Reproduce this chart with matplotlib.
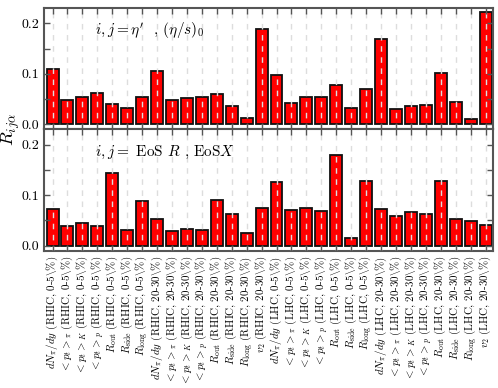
import numpy as np
import matplotlib
matplotlib.use("Agg")
import matplotlib.pyplot as plt
from matplotlib.ticker import MultipleLocator


# -----------------------------
# DATA
# -----------------------------
observables = [
    r"$dN_\pi/dy$", r"$<p_t>_\pi$", r"$<p_t>_K$", r"$<p_t>_p$",
    r"$R_{\rm out}$", r"$R_{\rm side}$", r"$R_{\rm long}$",
]
observables_v2 = observables + [r"$v_2$"]

# the backslash before % is printed literally in the original
pct = r"$\backslash$%"
bins = (
    [(o, "RHIC, 0-5" + pct) for o in observables]
    + [(o, "RHIC, 20-30" + pct) for o in observables_v2]
    + [(o, "LHC, 0-5" + pct) for o in observables]
    + [(o, "LHC, 20-30" + pct) for o in observables_v2]
)
tick_labels = [f"{o} ({c})" for o, c in bins]

# i,j = eta', (eta/s)_0
r_eta = [
    0.109, 0.048, 0.054, 0.062, 0.040, 0.033, 0.054,
    0.106, 0.048, 0.052, 0.055, 0.061, 0.036, 0.013, 0.189,
    0.097, 0.043, 0.054, 0.055, 0.078, 0.033, 0.069,
    0.168, 0.031, 0.037, 0.038, 0.101, 0.045, 0.011, 0.222,
]

# i,j = EoS R, EoS X
r_eos = [
    0.073, 0.039, 0.044, 0.039, 0.144, 0.031, 0.088,
    0.052, 0.028, 0.033, 0.030, 0.090, 0.062, 0.024, 0.074,
    0.125, 0.071, 0.075, 0.069, 0.180, 0.016, 0.128,
    0.073, 0.058, 0.066, 0.062, 0.127, 0.052, 0.049, 0.041,
]

panel_texts = [
    r"$i,j = \eta'$  , $(\eta/s)_0$",
    r"$i,j = $ EoS $R$ , EoS$X$",
]


# -----------------------------
# STYLE
# -----------------------------
plt.rcParams["font.family"] = "cmr10"
plt.rcParams["mathtext.fontset"] = "cm"
plt.rcParams["axes.formatter.use_mathtext"] = True


def style_axis(ax, x):
    ax.set_xlim(-0.55, len(x) - 0.5)
    ax.set_ylim(-0.01, 0.23)
    ax.yaxis.set_major_locator(MultipleLocator(0.1))
    ax.yaxis.set_minor_locator(MultipleLocator(0.05))
    ax.yaxis.set_major_formatter(plt.FormatStrFormatter("%.1f"))
    ax.set_xticks(x)
    ax.tick_params(axis="both", which="both", direction="in",
                   top=True, right=True, length=4, width=1,
                   color="#555555", labelsize=10)
    for s in ax.spines.values():
        s.set_color("#555555")
        s.set_linewidth(1.5)
    ax.xaxis.grid(True, color="#dddddd", linestyle=(0, (4, 4)), linewidth=1)
    ax.set_axisbelow(False)


def main():
    fig = plt.figure(figsize=(4.98, 3.88), dpi=100)
    gs = fig.add_gridspec(2, 1, left=0.089, right=0.99, top=0.979,
                          bottom=0.354, hspace=0)
    x = np.arange(len(tick_labels))

    for k, (vals, txt) in enumerate(zip([r_eta, r_eos], panel_texts)):
        ax = fig.add_subplot(gs[k])
        ax.bar(x, vals, width=0.8, color="#ff0000", edgecolor="#111111",
               linewidth=1.3, zorder=1)
        style_axis(ax, x)
        ax.text(0.113, 0.81, txt, transform=ax.transAxes, fontsize=11,
                va="center", ha="left")
        if k == 0:
            ax.set_xticklabels([])
        else:
            ax.set_xticklabels(tick_labels, rotation=90, fontsize=7.9)

    fig.text(0.022, 0.665, r"$R_{ij\alpha}$", rotation=90, fontsize=13,
             ha="center", va="center")

    fig.savefig("out.png", dpi=100)


if __name__ == "__main__":
    main()
